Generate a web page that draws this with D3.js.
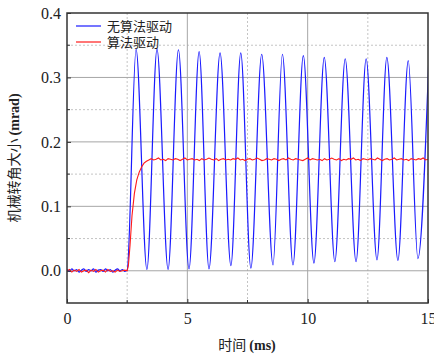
<!DOCTYPE html>
<html>
<head>
<meta charset="utf-8">
<script src="https://cdn.jsdelivr.net/npm/d3@7"></script>
<style>
  body { margin: 0; background: #fff; }
  svg { display: block; }
</style>
</head>
<body>
<script>
// ---- data ----
var xTicks = [0, 5, 10, 15];
var xMinor = [2.5, 7.5, 12.5];
var yTicks = [0.0, 0.1, 0.2, 0.3, 0.4];
var yMinor = [0.05, 0.15, 0.25, 0.35];

var legendNames = ["无算法驱动", "算法驱动"];

// baseline noise before the step, 0..2.5 ms every 0.1 ms
var baseTime = [0,0.1,0.2,0.3,0.4,0.5,0.6,0.7,0.8,0.9,1.0,1.1,1.2,1.3,1.4,1.5,1.6,1.7,1.8,1.9,2.0,2.1,2.2,2.3,2.4,2.5];
var blueBase = [0.002,-0.001,0.003,0.000,0.002,-0.002,0.001,0.003,-0.001,0.002,0.000,0.003,-0.002,0.001,0.002,-0.001,0.003,0.000,0.002,-0.002,0.001,0.003,0.000,0.002,-0.001,0.001];
var redBase  = [0.000,0.002,-0.002,0.001,-0.001,0.002,-0.002,0.000,0.001,-0.003,0.001,-0.001,0.002,-0.002,0.000,0.001,-0.002,0.002,-0.001,0.000,-0.002,0.001,-0.001,0.000,0.001,0.000];

// 无算法驱动: peaks and troughs after the step
var blueTime = [2.87,3.32,3.74,4.20,4.63,5.07,5.49,5.90,6.36,6.81,7.22,7.64,8.09,8.56,8.95,9.39,9.82,10.26,10.69,11.13,11.56,12.01,12.43,12.88,13.29,13.75,14.18,14.58,15.03];
var blueVal  = [0.344,0.002,0.344,0.002,0.343,0.003,0.340,0.003,0.338,0.008,0.338,0.004,0.336,0.009,0.336,0.009,0.334,0.012,0.331,0.014,0.329,0.014,0.329,0.017,0.331,0.016,0.326,0.019,0.325];

// 算法驱动: rise
var redRiseTime = [2.55,2.62,2.70,2.80,2.90,3.00,3.10,3.20,3.30,3.40];
var redRiseVal  = [0.008,0.040,0.085,0.120,0.141,0.153,0.161,0.167,0.170,0.172];
// plateau 3.5..15 ms every 0.1 ms
var redFlat = [0.174,0.172,0.173,0.175,0.172,0.173,0.171,0.174,0.173,0.172,
  0.174,0.173,0.171,0.173,0.175,0.172,0.173,0.174,0.172,0.173,
  0.171,0.174,0.172,0.173,0.175,0.173,0.172,0.174,0.171,0.173,
  0.174,0.172,0.173,0.172,0.174,0.173,0.175,0.172,0.173,0.171,
  0.173,0.174,0.172,0.173,0.175,0.173,0.171,0.172,0.174,0.173,
  0.172,0.174,0.173,0.171,0.173,0.174,0.172,0.175,0.173,0.172,
  0.174,0.173,0.172,0.171,0.173,0.175,0.172,0.174,0.173,0.172,
  0.173,0.171,0.174,0.172,0.173,0.175,0.173,0.172,0.174,0.171,
  0.173,0.172,0.174,0.173,0.175,0.172,0.173,0.171,0.174,0.173,
  0.172,0.174,0.173,0.172,0.175,0.173,0.171,0.173,0.174,0.172,
  0.173,0.175,0.172,0.173,0.174,0.172,0.173,0.171,0.174,0.173,
  0.172,0.174,0.173,0.175,0.172,0.173];

// ---- layout ----
var width = 434, height = 358;
var margin = {left: 67, right: 6, top: 13, bottom: 55};
var plotW = width - margin.left - margin.right;
var plotH = height - margin.top - margin.bottom;

var x = d3.scaleLinear().domain([0, 15]).range([0, plotW]);
var y = d3.scaleLinear().domain([-0.05, 0.4]).range([plotH, 0]);

var svg = d3.select("body").append("svg")
    .attr("width", width)
    .attr("height", height);

var g = svg.append("g")
    .attr("transform", "translate(" + margin.left + "," + margin.top + ")");

svg.append("defs").append("clipPath").attr("id", "clip")
  .append("rect").attr("width", plotW).attr("height", plotH);

// grid: minor dotted, major solid
g.selectAll(".vminor").data(xMinor).enter().append("line")
  .attr("x1", function(d) { return x(d); }).attr("x2", function(d) { return x(d); })
  .attr("y1", 0).attr("y2", plotH)
  .attr("stroke", "#c4c4c4").attr("stroke-dasharray", "2,2");
g.selectAll(".hminor").data(yMinor).enter().append("line")
  .attr("y1", function(d) { return y(d); }).attr("y2", function(d) { return y(d); })
  .attr("x1", 0).attr("x2", plotW)
  .attr("stroke", "#c4c4c4").attr("stroke-dasharray", "2,2");
g.selectAll(".vmajor").data(xTicks.slice(1, -1)).enter().append("line")
  .attr("x1", function(d) { return x(d); }).attr("x2", function(d) { return x(d); })
  .attr("y1", 0).attr("y2", plotH)
  .attr("stroke", "#a6a6a6");
g.selectAll(".hmajor").data(yTicks.slice(0, -1)).enter().append("line")
  .attr("y1", function(d) { return y(d); }).attr("y2", function(d) { return y(d); })
  .attr("x1", 0).attr("x2", plotW)
  .attr("stroke", "#a6a6a6");

// series
function pts(ts, vs) {
  return ts.map(function(t, i) { return [t, vs[i]]; });
}
var blueData = pts(baseTime, blueBase).concat(pts(blueTime, blueVal));
var flatTime = redFlat.map(function(v, i) { return 3.5 + i * 0.1; });
var redData = pts(baseTime, redBase).concat(pts(redRiseTime, redRiseVal)).concat(pts(flatTime, redFlat));

var lineSmooth = d3.line()
  .x(function(d) { return x(d[0]); })
  .y(function(d) { return y(d[1]); })
  .curve(d3.curveMonotoneX);
var lineRaw = d3.line()
  .x(function(d) { return x(d[0]); })
  .y(function(d) { return y(d[1]); });

var plot = g.append("g").attr("clip-path", "url(#clip)");
plot.append("path").datum(blueData)
  .attr("d", lineSmooth)
  .attr("fill", "none").attr("stroke", "#1a1aff").attr("stroke-width", 1.2);
plot.append("path").datum(redData)
  .attr("d", lineRaw)
  .attr("fill", "none").attr("stroke", "#ff1a1a").attr("stroke-width", 1.1);

// axes
var xAxis = d3.axisBottom(x).tickValues(xTicks).tickSize(-4).tickPadding(10).tickFormat(d3.format("d"));
var yAxis = d3.axisLeft(y).tickValues(yTicks).tickSize(-4).tickPadding(6).tickFormat(d3.format(".1f"));

var gx = g.append("g").attr("transform", "translate(0," + plotH + ")").call(xAxis);
var gy = g.append("g").call(yAxis);
[gx, gy].forEach(function(a) {
  a.select(".domain").remove();
  a.selectAll("line").attr("stroke", "#333");
  a.selectAll("text")
    .attr("font-family", "'Liberation Serif', 'Times New Roman', serif")
    .attr("font-size", "16px")
    .attr("fill", "#222");
});

// minor ticks inward
g.selectAll(".xmt").data(xMinor).enter().append("line")
  .attr("x1", function(d) { return x(d); }).attr("x2", function(d) { return x(d); })
  .attr("y1", plotH).attr("y2", plotH - 3).attr("stroke", "#333");
g.selectAll(".ymt").data(yMinor).enter().append("line")
  .attr("y1", function(d) { return y(d); }).attr("y2", function(d) { return y(d); })
  .attr("x1", 0).attr("x2", 3).attr("stroke", "#333");

// frame
g.append("rect")
  .attr("width", plotW).attr("height", plotH)
  .attr("fill", "none").attr("stroke", "#333").attr("stroke-width", 1.5);

// legend
var legColors = ["#1a1aff", "#ff1a1a"];
var leg = g.selectAll(".leg").data(legendNames).enter().append("g")
  .attr("transform", function(d, i) { return "translate(9," + (13 + i * 16) + ")"; });
leg.append("line").attr("x1", 0).attr("x2", 25)
  .attr("stroke", function(d, i) { return legColors[i]; }).attr("stroke-width", 1.2);
leg.append("text").attr("x", 31).attr("y", 5)
  .attr("font-family", "'Noto Sans CJK SC', sans-serif")
  .attr("font-size", "13px").attr("fill", "#222")
  .text(function(d) { return d; });

// axis titles
var xt = svg.append("text")
  .attr("x", 247).attr("y", 350)
  .attr("text-anchor", "middle")
  .attr("font-size", "14px").attr("fill", "#222");
xt.append("tspan").attr("font-family", "'Noto Sans CJK SC', sans-serif").text("时间 ");
xt.append("tspan").attr("font-family", "'Liberation Serif', serif").attr("font-weight", "bold").text("(ms)");

var yt = svg.append("text")
  .attr("transform", "translate(19,158) rotate(-90)")
  .attr("text-anchor", "middle")
  .attr("font-size", "14px").attr("fill", "#222");
yt.append("tspan").attr("font-family", "'Noto Sans CJK SC', sans-serif").text("机械转角大小 ");
yt.append("tspan").attr("font-family", "'Liberation Serif', serif").attr("font-weight", "bold").text("(mrad)");
</script>
</body>
</html>
